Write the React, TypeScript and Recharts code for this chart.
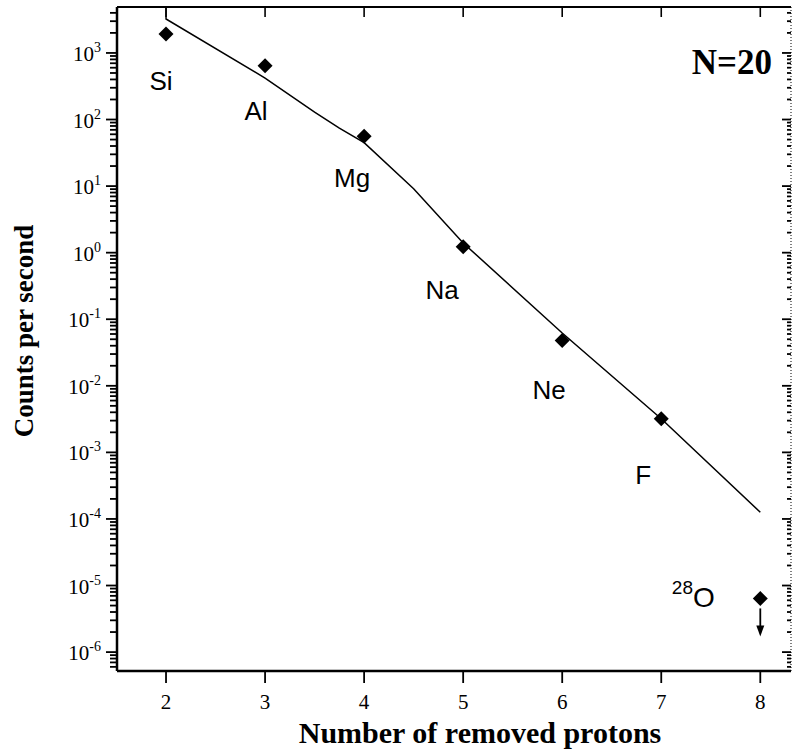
import React from "react";
import {
  ComposedChart,
  Line,
  Scatter,
  XAxis,
  YAxis,
} from "recharts";

// measured counts per removed-proton number (N=20 isotones)
const removedProtons = [2, 3, 4, 5, 6, 7, 8];
const elements = ["Si", "Al", "Mg", "Na", "Ne", "F", "O"];
const massNumbers = ["", "", "", "", "", "", "28"];
const counts = [1930, 640, 56, 1.23, 0.048, 0.0032, 6.4e-6];
const upperLimit = [false, false, false, false, false, false, true];

// systematics curve
const curveX = [2, 2, 3, 3.5, 3.75, 4, 4.5, 5, 6, 7, 8];
const curveY = [4900, 3240, 420, 129, 74, 45, 9.1, 1.4, 0.062, 0.0032, 0.000126];

// axis ticks
const xTicks = [2, 3, 4, 5, 6, 7, 8];
const decadeExponents = [-6, -5, -4, -3, -2, -1, 0, 1, 2, 3];
const minorMultipliers = [2, 3, 4, 5, 6, 7, 8, 9];

const X_DOMAIN: [number, number] = [1.505, 8.31];
const Y_DOMAIN: [number, number] = [5.2e-7, 4900];

// label offsets (px) relative to each marker
const labelOffsets = [
  [-5, 56],
  [-9, 54],
  [-12, 51],
  [-21, 52],
  [-13, 59],
  [-18, 65],
  [-67, 9],
];

const SERIF = "'Liberation Serif', 'Times New Roman', serif";
const SANS = "'Liberation Sans', Arial, sans-serif";

const majors = decadeExponents.map((e) => Math.pow(10, e));
const yTicks: number[] = [];
[-7, ...decadeExponents].forEach((e) => {
  const base = Math.pow(10, e);
  if (base >= Y_DOMAIN[0]) yTicks.push(base);
  minorMultipliers.forEach((m) => {
    const v = m * base;
    if (v >= Y_DOMAIN[0] && v <= Y_DOMAIN[1]) yTicks.push(v);
  });
});
const isMajor = (v: number) => majors.some((m) => Math.abs(v - m) < m * 1e-6);

const points = removedProtons.map((x, i) => ({
  x,
  y: counts[i],
  label: elements[i],
  sup: massNumbers[i],
  upper: upperLimit[i],
  offset: labelOffsets[i],
}));

const curve = curveX.map((x, i) => ({ x, y: curveY[i] }));

const LeftTick = ({ x, y, payload }: any) => {
  const v = payload.value;
  const major = isMajor(v);
  const len = major ? 11 : 7;
  const exp = Math.round(Math.log10(v));
  return (
    <g>
      <line x1={x} x2={x - len} y1={y} y2={y} stroke="#000" strokeWidth={1.8} />
      {major && (
        <text x={x - 16} y={y + 8} textAnchor="end" fontFamily={SERIF} fontSize={21} fill="#000">
          <tspan>10</tspan>
          <tspan dy={-9} fontSize={14}>{exp}</tspan>
        </text>
      )}
    </g>
  );
};

const RightTick = ({ x, y, payload }: any) => {
  const major = isMajor(payload.value);
  return (
    <line x1={x} x2={x - (major ? 9 : 4)} y1={y} y2={y} stroke="#000" strokeWidth={1.8} />
  );
};

const BottomTick = ({ x, y, payload }: any) => (
  <g>
    <line x1={x} x2={x} y1={y} y2={y + 12} stroke="#000" strokeWidth={1.8} />
    <text x={x} y={y + 38} textAnchor="middle" fontFamily={SERIF} fontSize={21} fill="#000">
      {payload.value}
    </text>
  </g>
);

const TopTick = ({ x, y }: any) => (
  <line x1={x} x2={x} y1={y} y2={y + 10} stroke="#000" strokeWidth={1.6} />
);

const XLabel = ({ viewBox }: any) => (
  <text
    x={viewBox.x + viewBox.width / 2 + 26}
    y={viewBox.y + 72}
    textAnchor="middle"
    fontFamily={SERIF}
    fontWeight="bold"
    fontSize={30}
    fill="#000"
  >
    Number of removed protons
  </text>
);

const YLabel = ({ viewBox }: any) => {
  const cx = viewBox.x + 33;
  const cy = 331;
  return (
    <text
      x={cx}
      y={cy}
      transform={`rotate(-90, ${cx}, ${cy})`}
      textAnchor="middle"
      fontFamily={SERIF}
      fontWeight="bold"
      fontSize={27}
      fill="#000"
    >
      Counts per second
    </text>
  );
};

const Marker = ({ cx, cy, payload }: any) => {
  const r = 7.5;
  const [dx, dy] = payload.offset;
  return (
    <g>
      <polygon
        points={`${cx},${cy - r} ${cx + r},${cy} ${cx},${cy + r} ${cx - r},${cy}`}
        fill="#000"
      />
      {payload.upper && (
        <g>
          <line x1={cx} x2={cx} y1={cy + 10} y2={cy + 30} stroke="#000" strokeWidth={1.8} />
          <polygon points={`${cx - 4},${cy + 27} ${cx + 4},${cy + 27} ${cx},${cy + 38}`} fill="#000" />
        </g>
      )}
      <text x={cx + dx} y={cy + dy} textAnchor="middle" fontFamily={SANS} fontSize={26} fill="#000">
        {payload.sup && (
          <tspan fontSize={19} dy={-13}>
            {payload.sup}
          </tspan>
        )}
        <tspan dy={payload.sup ? 13 : 0} fontSize={payload.sup ? 28 : 26}>{payload.label}</tspan>
      </text>
    </g>
  );
};

export default function App() {
  return (
    <div style={{ position: "absolute", left: 0, top: 0, width: 797, height: 753, background: "#fff" }}>
      <ComposedChart
        width={797}
        height={753}
        margin={{ top: 6, right: 5, bottom: 0, left: 0 }}
      >
        <XAxis
          dataKey="x"
          type="number"
          domain={X_DOMAIN}
          allowDataOverflow
          ticks={xTicks}
          interval={0}
          tickSize={0}
          tickMargin={0}
          tickLine={false}
          tick={(p: any) => <BottomTick {...p} />}
          axisLine={{ stroke: "#000", strokeWidth: 2.5 }}
          height={82}
          label={<XLabel />}
        />
        <XAxis
          xAxisId="top"
          orientation="top"
          dataKey="x"
          type="number"
          domain={X_DOMAIN}
          allowDataOverflow
          ticks={xTicks}
          interval={0}
          tickSize={0}
          tickMargin={0}
          tickLine={false}
          tick={(p: any) => <TopTick {...p} />}
          axisLine={{ stroke: "#000", strokeWidth: 2.2 }}
          height={1}
        />
        <YAxis
          type="number"
          scale="log"
          domain={Y_DOMAIN}
          allowDataOverflow
          ticks={yTicks}
          interval={0}
          tickSize={0}
          tickMargin={0}
          tickLine={false}
          tick={(p: any) => <LeftTick {...p} />}
          axisLine={{ stroke: "#000", strokeWidth: 2.5 }}
          width={117}
          label={<YLabel />}
        />
        <YAxis
          yAxisId="right"
          orientation="right"
          type="number"
          scale="log"
          domain={Y_DOMAIN}
          allowDataOverflow
          ticks={yTicks}
          interval={0}
          tickSize={0}
          tickMargin={0}
          tickLine={false}
          tick={(p: any) => <RightTick {...p} />}
          axisLine={{ stroke: "#000", strokeWidth: 1, strokeDasharray: "1 2" }}
          width={1}
        />
        <Line
          data={curve}
          dataKey="y"
          type="linear"
          stroke="#000"
          strokeWidth={1.5}
          dot={false}
          activeDot={false}
          isAnimationActive={false}
        />
        <Scatter
          data={points}
          dataKey="y"
          shape={(p: any) => <Marker {...p} />}
          isAnimationActive={false}
        />
      </ComposedChart>
      <div
        style={{
          position: "absolute",
          right: 25,
          top: 43,
          fontFamily: SERIF,
          fontWeight: "bold",
          fontSize: 35,
          lineHeight: "40px",
          color: "#000",
        }}
      >
        N=20
      </div>
    </div>
  );
}
